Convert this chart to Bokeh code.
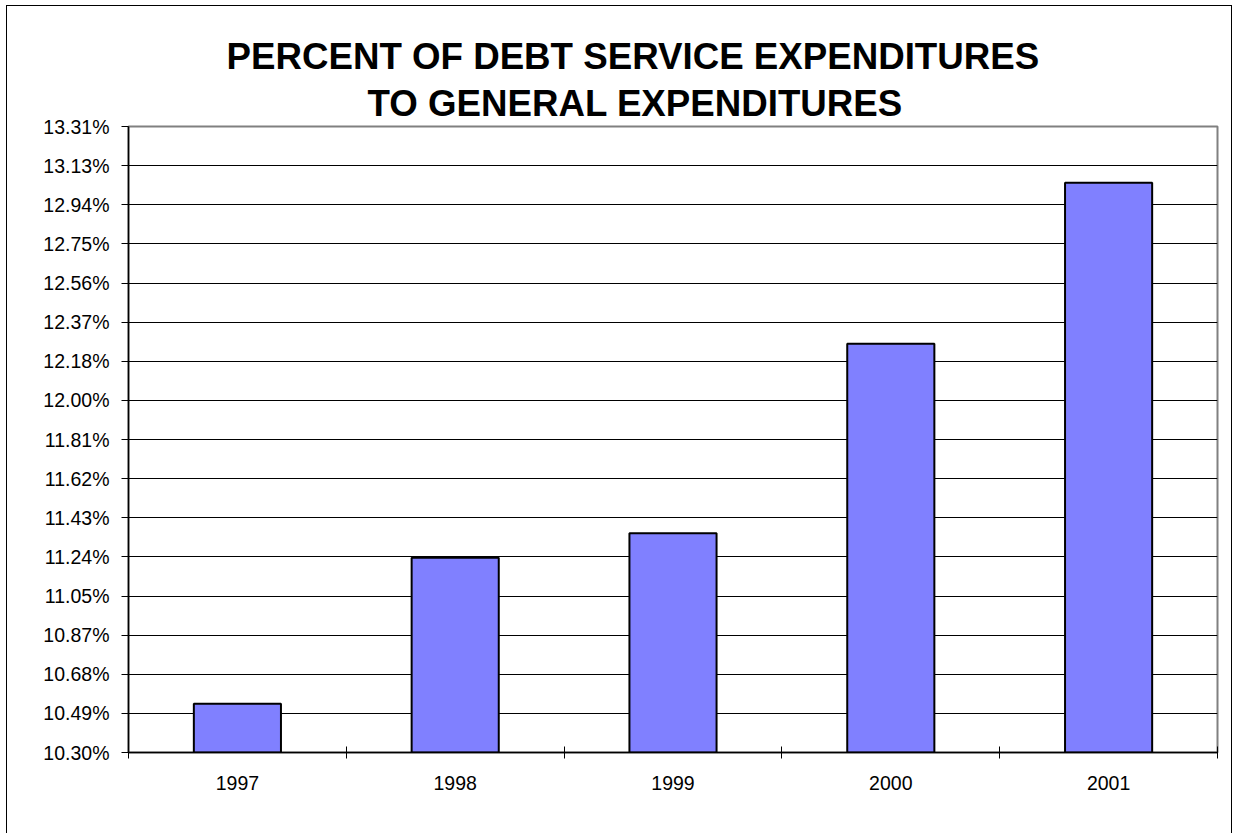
from bokeh.plotting import figure
from bokeh.models import Range1d, FixedTicker, Title
from bokeh.embed import file_html
from bokeh.resources import INLINE
import numpy as np

years = ["1997", "1998", "1999", "2000", "2001"]
values = [10.534, 11.236, 11.354, 12.265, 13.039]
y_tick_labels = ["10.30%", "10.49%", "10.68%", "10.87%", "11.05%", "11.24%", "11.43%",
                 "11.62%", "11.81%", "12.00%", "12.18%", "12.37%", "12.56%", "12.75%",
                 "12.94%", "13.13%", "13.31%"]
y_min, y_max = 10.30, 13.31
title_lines = ["PERCENT OF DEBT SERVICE EXPENDITURES", "TO GENERAL EXPENDITURES"]

W, H = 1226, 831
p = figure(width=W, height=H, output_backend="svg", toolbar_location=None, title=None,
           x_range=Range1d(0, len(years)), y_range=Range1d(y_min, y_max),
           min_border_left=121, min_border_right=16, min_border_top=120, min_border_bottom=85)
p.styles = {"border": "1px solid black", "margin-left": "6px", "margin-top": "5px"}

xc = [i + 0.5 for i in range(len(years))]
p.vbar(x=xc, top=values, bottom=y_min, width=0.4, fill_color="#8080FF",
       line_color="black", line_width=2)

y_ticks = list(np.linspace(y_min, y_max, len(y_tick_labels)))
yt = FixedTicker(ticks=y_ticks)
p.yaxis.ticker = yt
p.yaxis.major_label_overrides = {t: l for t, l in zip(y_ticks, y_tick_labels)}
p.ygrid.ticker = yt
p.ygrid.grid_line_color = "black"
p.ygrid.grid_line_width = 1
p.xgrid.grid_line_color = None

p.xaxis.ticker = FixedTicker(ticks=xc, minor_ticks=list(range(len(years) + 1)))
p.xaxis.major_label_overrides = {x: y for x, y in zip(xc, years)}
p.xaxis.major_tick_in = 0
p.xaxis.major_tick_out = 0
p.xaxis.minor_tick_in = 6
p.xaxis.minor_tick_out = 6
p.xaxis.minor_tick_line_color = "black"
p.xaxis.major_label_standoff = 17

p.yaxis.major_tick_in = 0
p.yaxis.major_tick_out = 7
p.yaxis.minor_tick_line_color = None
p.yaxis.major_label_standoff = 12
p.yaxis.major_tick_line_color = "black"

for ax in (p.xaxis, p.yaxis):
    ax.axis_line_color = "black"
    ax.axis_line_width = 1.5
    ax.major_label_text_font = "Liberation Sans"
    ax.major_label_text_font_size = "19.5px"
    ax.major_label_text_color = "black"

p.outline_line_color = "#808080"
p.outline_line_width = 2
p.background_fill_color = "white"
p.border_fill_color = "white"

# first added title sits closest to the frame; left offsets place both lines as in the reference
title_offsets = [98, 239]
title_standoffs = [1, 6]
for txt, off, so in reversed(list(zip(title_lines, title_offsets, title_standoffs))):
    p.add_layout(Title(text=txt, align="left", offset=off, standoff=so,
                       text_font="Liberation Sans", text_font_style="bold",
                       text_font_size="36.7px", text_color="black"), "above")

open("out.html", "w").write(file_html(p, INLINE))
